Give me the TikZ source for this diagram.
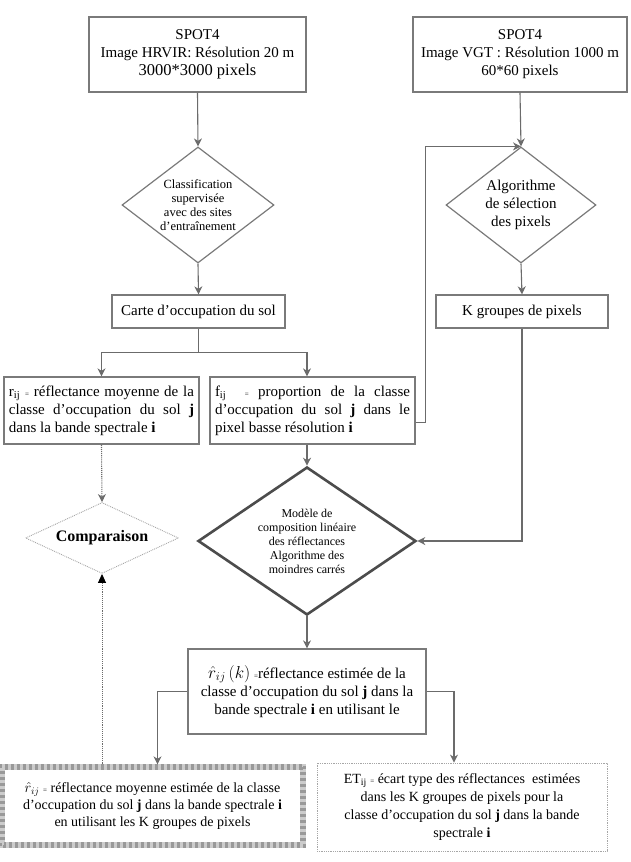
\documentclass[tikz,border=0pt]{standalone}
\usepackage{fontspec}
\setmainfont{Liberation Serif}
\usetikzlibrary{arrows.meta,shapes.geometric}

\definecolor{linegray}{gray}{0.42}
\definecolor{boxgray}{gray}{0.48}

\begin{document}
\begin{tikzpicture}[x=1pt, y=-1pt,
    box/.style={draw=boxgray, line width=1.3pt, fill=white, align=center, inner sep=2pt, font=\fontsize{15}{18}\selectfont},
    dia/.style={diamond, draw=boxgray, line width=1.2pt, fill=white, align=center, inner sep=0pt},
    arr/.style={-{Stealth[length=8pt,width=8pt,inset=2.5pt]}, draw=linegray, line width=1.1pt},
    dotarr/.style={arr, densely dotted},
    tri/.style={-{Triangle[length=9pt,width=8pt,color=black]}, draw=linegray, line width=0.9pt, densely dotted}
]
    \useasboundingbox (0,0) rectangle (630,862);

    % sources
    \node[box, minimum width=217, minimum height=75] (hrvir) at (197.5,54.5) {SPOT4\\Image HRVIR: Résolution 20 m\\{\fontsize{16.5}{19}\selectfont 3000*3000 pixels}};
    \node[box, minimum width=214, minimum height=75] (vgt) at (520,54.5) {SPOT4\\Image VGT : Résolution 1000 m\\60*60 pixels};

    \node[dia, minimum width=152, minimum height=116, aspect=1.31, font=\fontsize{12.5}{14}\selectfont] (classif) at (198,205) {Classification\\supervisée\\avec des sites\\d'entraînement};
    \node[dia, minimum width=150, minimum height=116, aspect=1.29, font=\fontsize{15}{18}\selectfont] (selpix) at (521,205) {Algorithme\\de sélection\\des pixels};

    \node[box, minimum width=173, minimum height=33] (carte) at (198.5,311.5) {Carte d'occupation du sol};
    \node[box, minimum width=172, minimum height=33] (kgrp) at (522,311.5) {K groupes de pixels};

    \node[box, minimum width=195, minimum height=67, text width=185, align=justify] (rmoy) at (101.5,410.5) {r\textsubscript{ij} {\scriptsize =} réflectance moyenne de la\linebreak classe d'occupation du sol \textbf{j}\linebreak dans la bande spectrale \textbf{i}};
    \node[box, minimum width=205, minimum height=67, text width=195, align=justify] (fprop) at (312.5,410.5) {f\textsubscript{ij}\ \ {\scriptsize =} proportion de la classe\linebreak d'occupation du sol \textbf{j} dans le\linebreak pixel basse résolution \textbf{i}};

    % modele et comparaison
    \node[dia, draw=gray!60!black, line width=2.6pt, minimum width=218, minimum height=148, aspect=1.47, font=\fontsize{12}{14}\selectfont] (modele) at (307,541) {Modèle de\\composition linéaire\\des réflectances\\Algorithme des\\moindres carrés};
    \node[dia, draw=gray!70, line width=0.9pt, densely dotted, minimum width=153, minimum height=71, aspect=2.15, font=\fontsize{16}{18}\selectfont\bfseries] (comp) at (102,538) {Comparaison};

    \node[box, minimum width=238, minimum height=85] (rk) at (307,691.5) {{\fontsize{18}{20}\selectfont$\hat{r}_{ij}\left(k\right)$} {\scriptsize =}réflectance estimée de la\\classe d'occupation du sol \textbf{j} dans la\\bande spectrale \textbf{i} en utilisant le};

    % resultats
    \node[box, draw=none, minimum width=299, minimum height=76, font=\fontsize{14}{17}\selectfont] (rmean) at (152.5,806) {$\hat{r}_{ij}$ {\scriptsize =} réflectance moyenne estimée de la classe\\d'occupation du sol \textbf{j} dans la bande spectrale \textbf{i}\\en utilisant les K groupes de pixels};
    \draw[line width=6pt, gray!40] (rmean.south west) rectangle (rmean.north east);
    \draw[line width=3pt, gray!80, dash pattern=on 3pt off 3pt] ([shift={(-1.5pt,-1.5pt)}]rmean.south west) rectangle ([shift={(1.5pt,1.5pt)}]rmean.north east);
    \draw[line width=3pt, gray!80, dash pattern=on 3pt off 3pt, dash phase=3pt] ([shift={(1.5pt,1.5pt)}]rmean.south west) rectangle ([shift={(-1.5pt,-1.5pt)}]rmean.north east);
    \node[box, draw=gray!70, line width=0.8pt, densely dotted, minimum width=290, minimum height=88, font=\fontsize{14}{18}\selectfont] (ecart) at (462,807) {ET\textsubscript{ij} {\scriptsize =} écart type des réflectances\ \ estimées\\dans les K groupes de pixels pour la\\classe d'occupation du sol \textbf{j} dans la bande\\spectrale \textbf{i}};

    \draw[arr] (hrvir.south) -- (classif.north);
    \draw[arr] (vgt.south) -- (selpix.north);
    \draw[arr] (classif.south) -- (carte.north);
    \draw[arr] (selpix.south) -- (kgrp.north);
    \draw[draw=linegray, line width=1.1pt] (carte.south) -- ++(0,24) coordinate (fork);
    \draw[arr] (fork) -| (rmoy.north);
    \draw[arr] (fork) -| (fprop.north -| modele.north);
    \draw[arr] ([yshift=-12pt]fprop.east) -- ++(10,0) |- (selpix.north);
    \draw[arr] (fprop.south -| modele.north) -- (modele.north);
    \draw[arr] (kgrp.south) |- (modele.east);
    \draw[dotarr] (rmoy.south) -- (comp.north);
    \draw[arr] (modele.south) -- (rk.north);
    \draw[arr] (rk.west) -| ([shift={(5pt,3pt)}]rmean.north);
    \draw[arr] (rk.east) -| ([xshift=-8pt]ecart.north);
    \draw[tri] ([yshift=3pt]rmean.north -| comp.south) -- (comp.south);
\end{tikzpicture}
\end{document}
